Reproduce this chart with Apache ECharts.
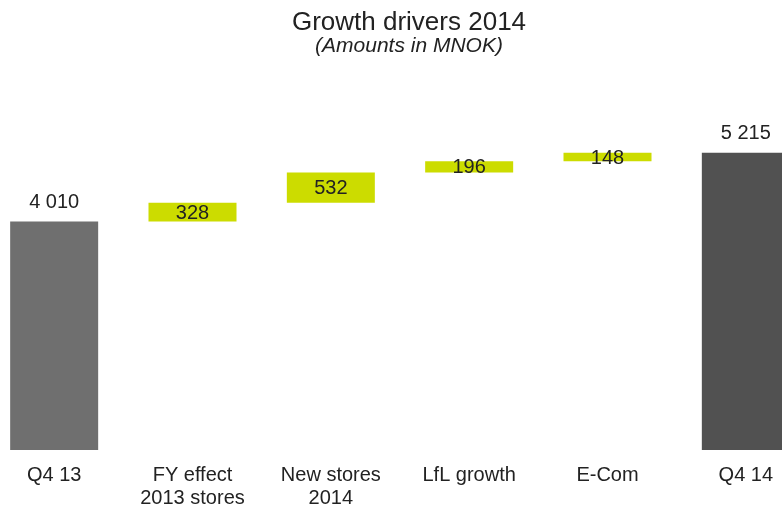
<!DOCTYPE html>
<html>
<head>
<meta charset="utf-8">
<title>Growth drivers 2014</title>
<script src="https://cdn.jsdelivr.net/npm/echarts@6/dist/echarts.min.js"></script>
<style>
  html, body { margin: 0; padding: 0; background: #ffffff; }
  #chart { width: 782px; height: 511px; }
</style>
</head>
<body>
<div id="chart"></div>
<script>
// Waterfall: opening total, four growth drivers, closing total (MNOK)
const categories = ['Q4 13', 'FY effect\n2013 stores', 'New stores\n2014', 'LfL growth', 'E-Com', 'Q4 14'];
const openingTotal = 4010;
const drivers = [328, 532, 196, 148];
const closingTotal = 5215;

const totalColors = ['#6F6F6F', '#515151'];
const driverColor = '#CCDC00';

// Spaces as thousands separator, e.g. "4 010"
function fmt(v) {
  return String(v).replace(/\B(?=(\d{3})+(?!\d))/g, ' ');
}

// Invisible base under each floating driver bar
const baseData = ['-'];
let running = openingTotal;
drivers.forEach(d => { baseData.push(running); running += d; });
baseData.push('-');

const totalData = [openingTotal, '-', '-', '-', '-', closingTotal].map((v, i) =>
  v === '-' ? '-' : { value: v, itemStyle: { color: i === 0 ? totalColors[0] : totalColors[1] } }
);
const driverData = ['-'].concat(drivers, ['-']);

const chart = echarts.init(document.getElementById('chart'), null, { renderer: 'canvas' });
chart.setOption({
  animation: false,
  backgroundColor: '#ffffff',
  textStyle: { fontFamily: 'Liberation Sans, Arial, sans-serif' },
  title: {
    text: 'Growth drivers 2014',
    subtext: '(Amounts in MNOK)',
    left: 404,
    textAlign: 'center',
    top: 5,
    itemGap: 0,
    textStyle: { fontSize: 26, fontWeight: 'normal', color: '#222222', fontFamily: 'Liberation Sans, Arial, sans-serif' },
    subtextStyle: { fontSize: 21, fontStyle: 'italic', color: '#222222', fontFamily: 'Liberation Sans, Arial, sans-serif' }
  },
  grid: { left: -15, width: 830, top: 108, height: 342, containLabel: false, outerBoundsMode: 'none' },
  xAxis: {
    type: 'category',
    data: categories,
    axisLine: { show: false },
    axisTick: { show: false },
    axisLabel: {
      interval: 0,
      margin: 14,
      fontSize: 20,
      lineHeight: 23,
      color: '#222222',
      fontFamily: 'Liberation Sans, Arial, sans-serif'
    }
  },
  yAxis: {
    type: 'value',
    min: 0,
    max: 6000,
    show: false,
    splitLine: { show: false }
  },
  series: [
    {
      name: 'base',
      type: 'bar',
      stack: 'wf',
      barWidth: 88,
      itemStyle: { color: 'transparent' },
      emphasis: { disabled: true },
      data: baseData
    },
    {
      name: 'drivers',
      type: 'bar',
      stack: 'wf',
      barWidth: 88,
      itemStyle: { color: driverColor },
      label: {
        show: true,
        position: 'inside',
        offset: [0, 1],
        fontSize: 20,
        color: '#222222',
        fontFamily: 'Liberation Sans, Arial, sans-serif',
        formatter: p => fmt(p.value)
      },
      data: driverData
    },
    {
      name: 'totals',
      type: 'bar',
      stack: 'wf',
      barWidth: 88,
      label: {
        show: true,
        position: 'top',
        distance: 9,
        fontSize: 20,
        color: '#222222',
        fontFamily: 'Liberation Sans, Arial, sans-serif',
        formatter: p => fmt(p.value)
      },
      data: totalData
    }
  ]
});
</script>
</body>
</html>
